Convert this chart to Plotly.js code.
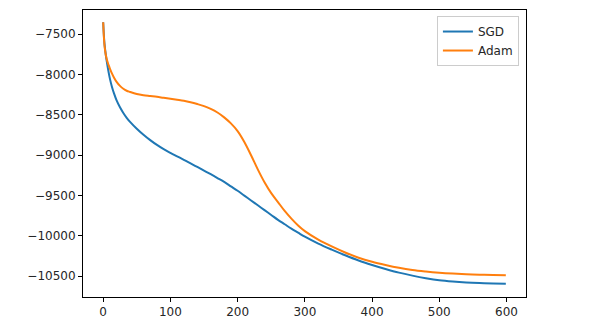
<!DOCTYPE html>
<html>
<head>
<meta charset="utf-8">
<script src="https://cdn.plot.ly/plotly-3.0.1.min.js"></script>
<style>
html,body{margin:0;padding:0;background:#fff;}
#chart{width:608px;height:336px;}
</style>
</head>
<body>
<div id="chart"></div>
<script>
var iterations = [0,2,4,6,8,10,13,16,20,25,30,35,40,50,60,70,80,90,100,110,120,130,140,150,160,170,180,190,200,210,220,230,240,250,260,270,280,290,300,320,340,360,380,400,420,440,460,480,500,520,540,560,580,599];
var sgd = [-7350,-7620,-7760,-7870,-7965,-8050,-8150,-8230,-8320,-8405,-8475,-8535,-8585,-8670,-8745,-8812,-8872,-8925,-8970,-9013,-9056,-9100,-9145,-9190,-9235,-9282,-9330,-9385,-9440,-9500,-9560,-9620,-9680,-9740,-9800,-9855,-9910,-9960,-10010,-10095,-10170,-10240,-10305,-10360,-10410,-10455,-10492,-10524,-10550,-10566,-10577,-10584,-10589,-10592];
var adam = [-7350,-7640,-7760,-7830,-7880,-7925,-7985,-8035,-8090,-8140,-8175,-8200,-8215,-8240,-8255,-8265,-8275,-8288,-8300,-8312,-8325,-8343,-8365,-8390,-8425,-8470,-8530,-8605,-8700,-8835,-9000,-9175,-9335,-9470,-9580,-9690,-9785,-9870,-9940,-10045,-10130,-10205,-10270,-10320,-10360,-10395,-10422,-10441,-10456,-10467,-10475,-10481,-10485,-10488];
var xTickVals = [0,100,200,300,400,500,600];
var xTickText = ['0','100','200','300','400','500','600'];
var yTickVals = [-7500,-8000,-8500,-9000,-9500,-10000,-10500];
var yTickText = ['\u22127500','\u22128000','\u22128500','\u22129000','\u22129500','\u221210000','\u221210500'];

var traces = [
  {x: iterations, y: sgd, name: 'SGD', mode: 'lines', line: {color: '#1f77b4', width: 2, shape: 'spline', smoothing: 1}},
  {x: iterations, y: adam, name: 'Adam', mode: 'lines', line: {color: '#ff7f0e', width: 2, shape: 'spline', smoothing: 1}}
];
var axisCommon = {
  showgrid: false, zeroline: false, showline: true, mirror: true,
  linecolor: '#000', linewidth: 1, ticks: 'outside', ticklen: 4, tickwidth: 1,
  tickcolor: '#000', tickfont: {family: 'DejaVu Sans', size: 12, color: '#262626'}
};
var layout = {
  width: 608, height: 336,
  margin: {l: 83, r: 82, t: 10, b: 39},
  paper_bgcolor: '#fff', plot_bgcolor: '#fff',
  showlegend: true,
  legend: {x: 0.984, y: 0.979, xanchor: 'right', yanchor: 'top',
           bgcolor: 'rgba(255,255,255,0.8)', bordercolor: '#cccccc', borderwidth: 1,
           font: {family: 'DejaVu Sans', size: 12, color: '#262626'}},
  xaxis: Object.assign({}, axisCommon, {range: [-30, 629], tickvals: xTickVals, ticktext: xTickText}),
  yaxis: Object.assign({}, axisCommon, {range: [-10757, -7199], tickvals: yTickVals, ticktext: yTickText})
};
Plotly.newPlot('chart', traces, layout, {staticPlot: true, displayModeBar: false});
</script>
</body>
</html>
